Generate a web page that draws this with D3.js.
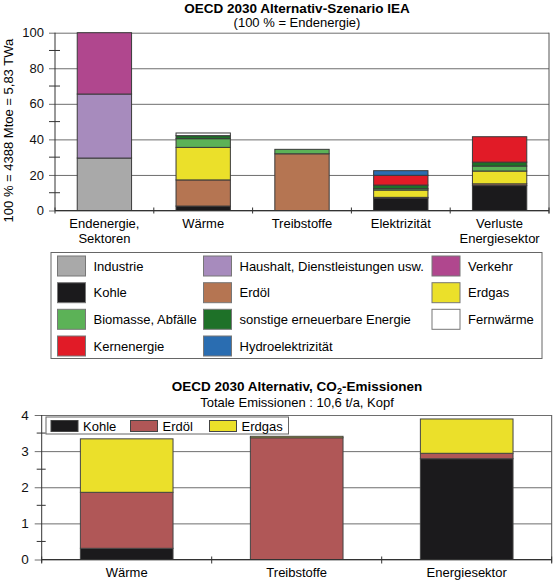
<!DOCTYPE html>
<html><head><meta charset="utf-8">
<script src="https://cdn.jsdelivr.net/npm/d3@7"></script>
<style>
body{margin:0;background:#fff;}
svg{display:block;font-family:"Liberation Sans",Arial,Helvetica,sans-serif;}
</style></head>
<body><svg id="c" width="553" height="582"></svg>
<script>
// ---------- data: top chart ----------
const categories = ["Endenergie,|Sektoren", "Wärme", "Treibstoffe", "Elektrizität", "Verluste|Energiesektor"];
const industrie   = [29.5, 0,    0,    0,   0];
const haushalt    = [36,   0,    0,    0,   0];
const verkehr     = [34.5, 0,    0,    0,   0];
const kohle       = [0,    2.5,  0,    7.0, 14.0];
const erdoel      = [0,    14.7, 31.9, 0.4, 1.0];
const erdgas      = [0,    18.3, 0,    4.1, 7.2];
const biomasse    = [0,    4.9,  2.5,  0.8, 2.8];
const sonstige    = [0,    1.7,  0,    2.0, 2.2];
const fernwaerme  = [0,    1.5,  0,    0,   0];
const kernenergie = [0,    0,    0,    5.5, 14.3];
const hydro       = [0,    0,    0,    2.6, 0];
const yTicksTop = [0, 20, 40, 60, 80, 100];

const seriesNames = ["Industrie","Haushalt, Dienstleistungen usw.","Verkehr","Kohle","Erdöl","Erdgas",
  "Biomasse, Abfälle","sonstige erneuerbare Energie","Fernwärme","Kernenergie","Hydroelektrizität"];
const seriesValues = [industrie,haushalt,verkehr,kohle,erdoel,erdgas,biomasse,sonstige,fernwaerme,kernenergie,hydro];
const seriesColors = ["#a9a9a9","#a78bbd","#b0478e","#1b1a1c","#b57552","#ebe02a","#5cb257","#1e7128","#ffffff","#e11b27","#2a6db1"];

// ---------- data: bottom chart ----------
const co2Categories = ["Wärme", "Treibstoffe", "Energiesektor"];
const co2Kohle  = [0.31, 0,    2.79];
const co2Erdoel = [1.55, 3.37, 0.15];
const co2Erdgas = [1.48, 0.04, 0.95];
const co2Names  = ["Kohle","Erdöl","Erdgas"];
const co2Colors = ["#1b1a1c","#b05757","#ebe02a"];
const yTicksBottom = [0, 1, 2, 3, 4];

const svg = d3.select("#c");
const FS = 13;

// ================= TOP CHART =================
const t = {x0:55, x1:549, y0:210.5, y1:32.7};
const xT = d3.scaleBand().domain(categories).range([t.x0,t.x1]).paddingInner(0.45).paddingOuter(0.225);
const yT = d3.scaleLinear().domain([0,100]).range([t.y0,t.y1]);

svg.append("text").attr("x",297).attr("y",13).attr("text-anchor","middle")
  .attr("font-size",13.5).attr("font-weight","bold").text("OECD 2030 Alternativ-Szenario IEA");
svg.append("text").attr("x",297).attr("y",27).attr("text-anchor","middle")
  .attr("font-size",FS).text("(100 % = Endenergie)");

const gT = svg.append("g").attr("transform",`translate(${t.x0},0)`)
  .call(d3.axisLeft(yT).tickValues(yTicksTop).tickSize(-(t.x1-t.x0)).tickSizeOuter(0).tickPadding(11));
gT.select(".domain").remove();
gT.selectAll(".tick line").attr("stroke","#6e6e6e").attr("x1",-6);
gT.selectAll(".tick text").attr("font-size",FS).attr("font-family","Liberation Sans, Arial").attr("fill","#111");
const minorT = d3.range(10,100,20);
svg.append("g").selectAll("line").data(minorT).join("line")
  .attr("x1",t.x0-6).attr("x2",t.x0+5).attr("y1",d=>yT(d)).attr("y2",d=>yT(d)).attr("stroke","#333");
svg.append("line").attr("x1",t.x0).attr("x2",t.x0).attr("y1",yT(100)).attr("y2",t.y0).attr("stroke","#333");
svg.append("line").attr("x1",t.x1).attr("x2",t.x1).attr("y1",yT(100)).attr("y2",t.y0+3).attr("stroke","#555");

svg.append("text").attr("transform",`translate(13,${(t.y0+t.y1)/2+9}) rotate(-90)`)
  .attr("text-anchor","middle").attr("font-size",FS).text("100 % = 4388 Mtoe = 5,83 TWa");

const stackT = d3.stack().keys(d3.range(seriesNames.length))
  .value((d,k)=>seriesValues[k][d])(d3.range(categories.length));
svg.append("g").selectAll("g").data(stackT).join("g")
  .attr("fill",(s,i)=>seriesColors[i])
  .selectAll("rect").data(s=>s.filter(d=>d[1]-d[0]>0)).join("rect")
  .attr("x",d=>xT(categories[d.data])).attr("width",xT.bandwidth())
  .attr("y",d=>yT(d[1])).attr("height",d=>yT(d[0])-yT(d[1]))
  .attr("stroke","#3a3a3a").attr("stroke-width",1);

const step = xT.step();
svg.append("line").attr("x1",t.x0).attr("x2",t.x1).attr("y1",t.y0).attr("y2",t.y0).attr("stroke","#333");
svg.append("g").selectAll("line").data(d3.range(categories.length+1)).join("line")
  .attr("x1",i=>t.x0+i*step).attr("x2",i=>t.x0+i*step).attr("y1",t.y0-3).attr("y2",t.y0+3).attr("stroke","#333");
const labT = svg.append("g").selectAll("text").data(categories).join("text")
  .attr("x",d=>xT(d)+xT.bandwidth()/2).attr("y",228).attr("text-anchor","middle").attr("font-size",FS);
labT.each(function(d){
  const parts=d.split("|"); const el=d3.select(this);
  parts.forEach((p,i)=>el.append("tspan").attr("x",xT(d)+xT.bandwidth()/2).attr("dy",i?15:0).text(p));
});

svg.append("rect").attr("x",51).attr("y",252.5).attr("width",491).attr("height",106)
  .attr("fill","#fff").attr("stroke","#666");
const colX = [57.5, 203.5, 432];
const rowY = [266, 292.7, 319.3, 346];
const lg = svg.append("g").selectAll("g").data(seriesNames).join("g")
  .attr("transform",(d,i)=>`translate(${colX[i%3]},${rowY[Math.floor(i/3)]})`);
lg.append("rect").attr("x",0).attr("y",-10).attr("width",28).attr("height",20)
  .attr("fill",(d,i)=>seriesColors[i]).attr("stroke","#777");
lg.append("text").attr("x",36).attr("y",4.5).attr("font-size",FS).text(d=>d);

// ================= BOTTOM CHART =================
const b = {x0:41.7, x1:551.7, y0:559.5, y1:415};
const xB = d3.scaleBand().domain(co2Categories).range([b.x0,b.x1]).paddingInner(0.455).paddingOuter(0.2275);
const yB = d3.scaleLinear().domain([0,4]).range([b.y0,b.y1]);

const t2 = svg.append("text").attr("x",297).attr("y",391).attr("text-anchor","middle")
  .attr("font-size",13.5).attr("font-weight","bold");
t2.append("tspan").text("OECD 2030 Alternativ, CO");
t2.append("tspan").attr("font-size",9).attr("dy",3).text("2");
t2.append("tspan").attr("dy",-3).text("-Emissionen");
svg.append("text").attr("x",297).attr("y",407).attr("text-anchor","middle")
  .attr("font-size",FS).text("Totale Emissionen : 10,6 t/a, Kopf");

const gB = svg.append("g").attr("transform",`translate(${b.x0},0)`)
  .call(d3.axisLeft(yB).tickValues(yTicksBottom).tickFormat(d3.format("d")).tickSize(-(b.x1-b.x0)).tickSizeOuter(0).tickPadding(13));
gB.select(".domain").remove();
gB.selectAll(".tick line").attr("stroke","#6e6e6e").attr("x1",-7);
gB.selectAll(".tick text").attr("font-size",13.5).attr("font-family","Liberation Sans, Arial").attr("fill","#111");
svg.append("g").selectAll("line").data([0.5,1.5,2.5,3.5]).join("line")
  .attr("x1",b.x0-5).attr("x2",b.x0+4).attr("y1",d=>yB(d)).attr("y2",d=>yB(d)).attr("stroke","#333");
svg.append("line").attr("x1",b.x0).attr("x2",b.x0).attr("y1",yB(4)).attr("y2",b.y0+3).attr("stroke","#333");
svg.append("line").attr("x1",b.x1).attr("x2",b.x1).attr("y1",yB(4)).attr("y2",b.y0+3).attr("stroke","#555");

const co2Values = [co2Kohle, co2Erdoel, co2Erdgas];
const stackB = d3.stack().keys([0,1,2]).value((d,k)=>co2Values[k][d])(d3.range(co2Categories.length));
svg.append("g").selectAll("g").data(stackB).join("g")
  .attr("fill",(s,i)=>co2Colors[i])
  .selectAll("rect").data(s=>s.filter(d=>d[1]-d[0]>0)).join("rect")
  .attr("x",d=>xB(co2Categories[d.data])).attr("width",xB.bandwidth())
  .attr("y",d=>yB(d[1])).attr("height",d=>yB(d[0])-yB(d[1]))
  .attr("stroke","#444").attr("stroke-width",1);

const stepB = xB.step();
svg.append("line").attr("x1",b.x0).attr("x2",b.x1).attr("y1",b.y0).attr("y2",b.y0).attr("stroke","#333");
svg.append("g").selectAll("line").data(d3.range(co2Categories.length+1)).join("line")
  .attr("x1",i=>b.x0+i*stepB).attr("x2",i=>b.x0+i*stepB).attr("y1",b.y0-3).attr("y2",b.y0+4).attr("stroke","#333");
svg.append("g").selectAll("text").data(co2Categories).join("text")
  .attr("x",d=>xB(d)+xB.bandwidth()/2).attr("y",577).attr("text-anchor","middle")
  .attr("font-size",FS).text(d=>d);

svg.append("rect").attr("x",46).attr("y",417).attr("width",242.5).attr("height",17)
  .attr("fill","#fff").attr("stroke","#666");
const lgX = [51, 130.5, 209.5];
const lb = svg.append("g").selectAll("g").data(co2Names).join("g")
  .attr("transform",(d,i)=>`translate(${lgX[i]},420.5)`);
lb.append("rect").attr("width",27).attr("height",11).attr("fill",(d,i)=>co2Colors[i]).attr("stroke","#444");
lb.append("text").attr("x",32).attr("y",10.5).attr("font-size",FS).text(d=>d);
</script></body></html>
